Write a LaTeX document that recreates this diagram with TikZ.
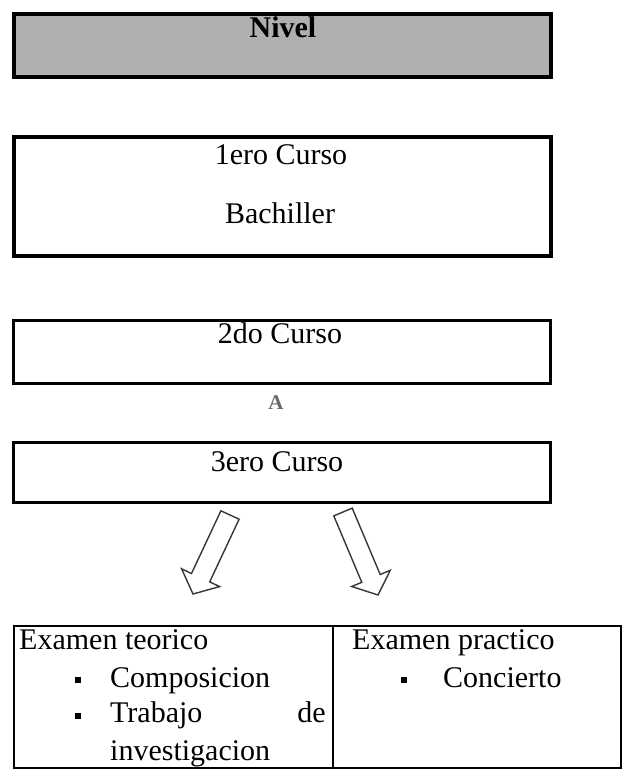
\documentclass[tikz,border=0pt]{standalone}
\usepackage{fontspec}
\setmainfont{Liberation Serif}
\definecolor{levelgray}{RGB}{176,176,176}
\definecolor{markgray}{RGB}{105,105,105}
\definecolor{arrowline}{RGB}{55,55,55}
\begin{document}
\begin{tikzpicture}[x=1pt,y=-1pt,
  frame/.style={draw=black, line width=#1, inner sep=0pt, anchor=north west},
  frame/.default=3.5pt,
  txt/.style={inner sep=0pt, anchor=base, font=\fontsize{30}{36}\selectfont},
  item/.style={inner sep=0pt, anchor=base west, font=\fontsize{30}{36}\selectfont},
  bulletmark/.style={fill=black, minimum size=6pt, inner sep=0pt},
  blockarrow/.style={draw=arrowline, line width=1.4pt, line join=miter, fill=white}]
\useasboundingbox (0,0) rectangle (624,777);

% level boxes
\node[frame, fill=levelgray, minimum width=537pt, minimum height=63pt] (nivel) at (12,12) {};
\node[frame, minimum width=537pt, minimum height=119pt] (primero) at (12,135) {};
\node[frame=3pt, minimum width=537pt, minimum height=63pt] (segundo) at (12,318.5) {};
\node[frame=3pt, minimum width=537pt, minimum height=60pt] (tercero) at (12,440.5) {};

% box texts
\node[txt, font=\fontsize{30}{36}\selectfont\bfseries] (tnivel) at (283,37) {Nivel};
\node[txt] (tprimero) at (281,164) {1ero Curso};
\node[txt] (tbach) at (280,223) {Bachiller};
\node[txt] (tsegundo) at (280,343) {2do Curso};
\node[inner sep=0pt, anchor=base, text=markgray, font=\fontsize{21}{24}\selectfont\bfseries] (mark) at (276,409) {A};
\node[txt] (ttercero) at (277,471) {3ero Curso};

% block arrows towards the two exams
\coordinate (la1) at (239.1,519.2);
\coordinate (la2) at (209.7,581.9);
\coordinate (la3) at (219.6,586.6);
\coordinate (la4) at (193.0,594.0);
\coordinate (la5) at (181.6,568.8);
\coordinate (la6) at (191.5,573.5);
\coordinate (la7) at (220.9,510.8);
\draw[blockarrow] (la1) -- (la2) -- (la3) -- (la4) -- (la5) -- (la6) -- (la7) -- cycle;

\coordinate (ra1) at (352.2,508.1);
\coordinate (ra2) at (380.2,574.5);
\coordinate (ra3) at (390.3,570.3);
\coordinate (ra4) at (378.0,595.0);
\coordinate (ra5) at (351.7,586.5);
\coordinate (ra6) at (361.8,582.3);
\coordinate (ra7) at (333.8,515.9);
\draw[blockarrow] (ra1) -- (ra2) -- (ra3) -- (ra4) -- (ra5) -- (ra6) -- (ra7) -- cycle;

% exam table
\node[frame=2.5pt, minimum width=607pt, minimum height=142pt] (tabla) at (12.5,624.5) {};
\coordinate (divtop) at (333,624.5);
\coordinate (divbot) at (333,766.5);
\draw[line width=2.5pt] (divtop) -- (divbot);

\node[item] (teorico) at (19,649) {Examen teorico};
\node[bulletmark] (b1) at (78,680) {};
\node[item] (comp) at (110,687) {Composicion};
\node[bulletmark] (b2) at (78,716) {};
\node[item] (trab) at (110,722) {Trabajo};
\node[inner sep=0pt, anchor=base east, font=\fontsize{30}{36}\selectfont] (de) at (326,722) {de};
\node[item] (inv) at (110,760) {investigacion};

\node[item] (practico) at (352,649) {Examen practico};
\node[bulletmark] (b3) at (404,680) {};
\node[item] (conc) at (443,687) {Concierto};
\end{tikzpicture}
\end{document}
